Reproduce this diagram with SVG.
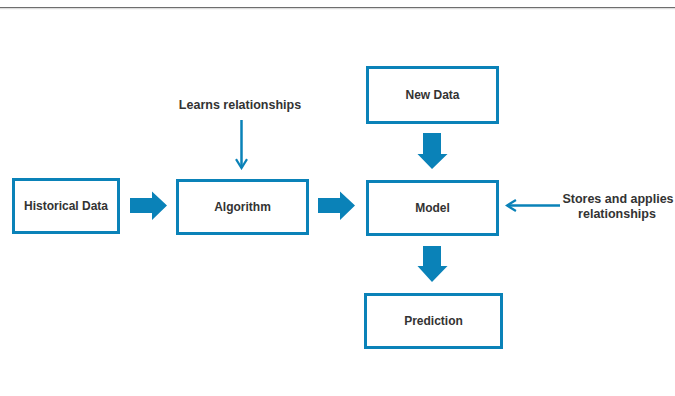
<svg xmlns="http://www.w3.org/2000/svg" width="675" height="396" viewBox="0 0 675 396">
  <style>
    .box { fill: #ffffff; stroke: #0a82b8; stroke-width: 3; }
    .lbl { font-family: "Liberation Sans", Arial, sans-serif; font-size: 12px; font-weight: bold; fill: #333333; text-anchor: middle; }
    .note { font-size: 12.5px; }
    .block { fill: #0a82b8; }
    .thin { stroke: #0a82b8; stroke-width: 2.5; fill: none; }
  </style>
  <defs>
    <marker id="open" viewBox="0 0 10 10" refX="8.5" refY="5" markerWidth="5.5" markerHeight="5.5" orient="auto-start-reverse" markerUnits="strokeWidth">
      <path d="M2,1 L8.5,5 L2,9" fill="none" stroke="#0a82b8" stroke-width="1.6"/>
    </marker>
  </defs>

  <rect x="0" y="0" width="675" height="396" fill="#ffffff"/>
  <line x1="0" y1="7.5" x2="675" y2="7.5" stroke="#6e6e6e" stroke-width="1.2"/>
  <line x1="0" y1="8.7" x2="675" y2="8.7" stroke="#c8c8c8" stroke-width="0.8"/>

  <g id="historical-data">
    <rect class="box" x="13.5" y="179.5" width="105" height="53"/>
    <text class="lbl" x="66" y="210">Historical Data</text>
  </g>
  <g id="algorithm">
    <rect class="box" x="177.5" y="180.5" width="130" height="53"/>
    <text class="lbl" x="242.5" y="211">Algorithm</text>
  </g>
  <g id="new-data">
    <rect class="box" x="367.5" y="67.5" width="130" height="55"/>
    <text class="lbl" x="432.5" y="99">New Data</text>
  </g>
  <g id="model">
    <rect class="box" x="367.5" y="181.5" width="130" height="53"/>
    <text class="lbl" x="432.5" y="212">Model</text>
  </g>
  <g id="prediction">
    <rect class="box" x="365.5" y="294.5" width="136" height="53"/>
    <text class="lbl" x="433.5" y="325">Prediction</text>
  </g>

  <g id="connectors">
    <!-- block arrows -->
    <path class="block" d="M130,198 H152 V191.5 L167,205.5 L152,220 V213 H130 Z"/>
    <path class="block" d="M318,198 H340 V191.5 L355,205.5 L340,220 V213 H318 Z"/>
    <path class="block" d="M423,133 H441 V154 H447.5 L432,169 L417.5,154 H423 Z"/>
    <path class="block" d="M423,246 H441 V266 H447.5 L432,282 L417.5,266 H423 Z"/>
    <!-- thin annotation arrows -->
    <line class="thin" x1="241.5" y1="120" x2="241.5" y2="168" marker-end="url(#open)"/>
    <line class="thin" x1="560" y1="205.5" x2="507" y2="205.5" marker-end="url(#open)"/>
  </g>

  <g id="annotations">
    <text class="lbl note" x="240" y="109">Learns relationships</text>
    <text class="lbl note" x="618" y="203">Stores and applies</text>
    <text class="lbl note" x="617" y="218">relationships</text>
  </g>
</svg>
